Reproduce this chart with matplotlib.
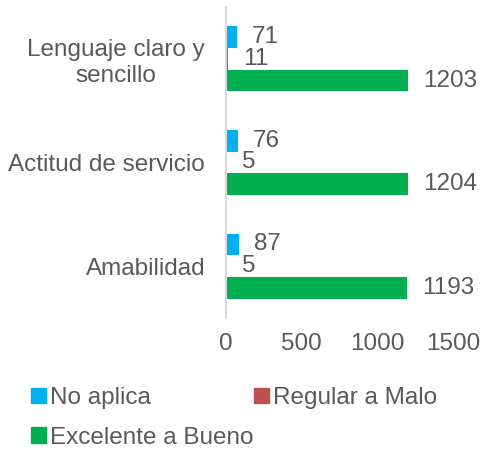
import matplotlib.pyplot as plt
import numpy as np
from matplotlib.patches import Patch

plt.rcParams['font.family'] = ['Liberation Sans', 'DejaVu Sans']

categories = ["Lenguaje claro y\nsencillo", "Actitud de servicio", "Amabilidad"]
no_aplica = [71, 76, 87]
regular_malo = [11, 5, 5]
excelente_bueno = [1203, 1204, 1193]
series_names = ["No aplica", "Regular a Malo", "Excelente a Bueno"]
colors = ["#00B0F0", "#C0504D", "#00B050"]
text_color = "#595959"
fs = 17.5

fig = plt.figure(figsize=(4.81, 4.51), dpi=100)
ax = fig.add_axes([226 / 481, 1 - 318 / 451, (453 - 226) / 481, (318 - 7) / 451])

y = np.arange(len(categories))
h = 0.21
values = [no_aplica, regular_malo, excelente_bueno]
offsets = [-h, 0, h]
for vals, off, c, name in zip(values, offsets, colors, series_names):
    bars = ax.barh(y + off, vals, height=h, color=c, label=name)
    ax.bar_label(bars, padding=11, fontsize=fs, color=text_color)

ax.set_ylim(2.5, -0.5)
ax.set_xlim(0, 1500)
ax.set_xticks([0, 500, 1000, 1500])
ax.set_yticks(y)
ax.set_yticklabels(categories, multialignment="center")
ax.tick_params(axis="both", length=0, labelsize=fs, labelcolor=text_color)
ax.tick_params(axis="x", pad=11)
ax.tick_params(axis="y", pad=15)

for s in ["top", "right", "bottom"]:
    ax.spines[s].set_visible(False)
ax.spines["left"].set_color("#D9D9D9")
ax.spines["left"].set_linewidth(1.5)

handles = [Patch(color=colors[0]), Patch(color=colors[2]), Patch(color=colors[1])]
labels = [series_names[0], series_names[2], series_names[1]]
fig.legend(handles, labels, ncol=2, loc="upper left", bbox_to_anchor=(31 / 481, 1 - 387 / 451),
           frameon=False, fontsize=fs, labelcolor=text_color, handlelength=0.6, handleheight=0.6,
           handletextpad=0.2, columnspacing=0.0, borderpad=0, borderaxespad=0, labelspacing=0.72)

fig.savefig("out.png", dpi=100)
